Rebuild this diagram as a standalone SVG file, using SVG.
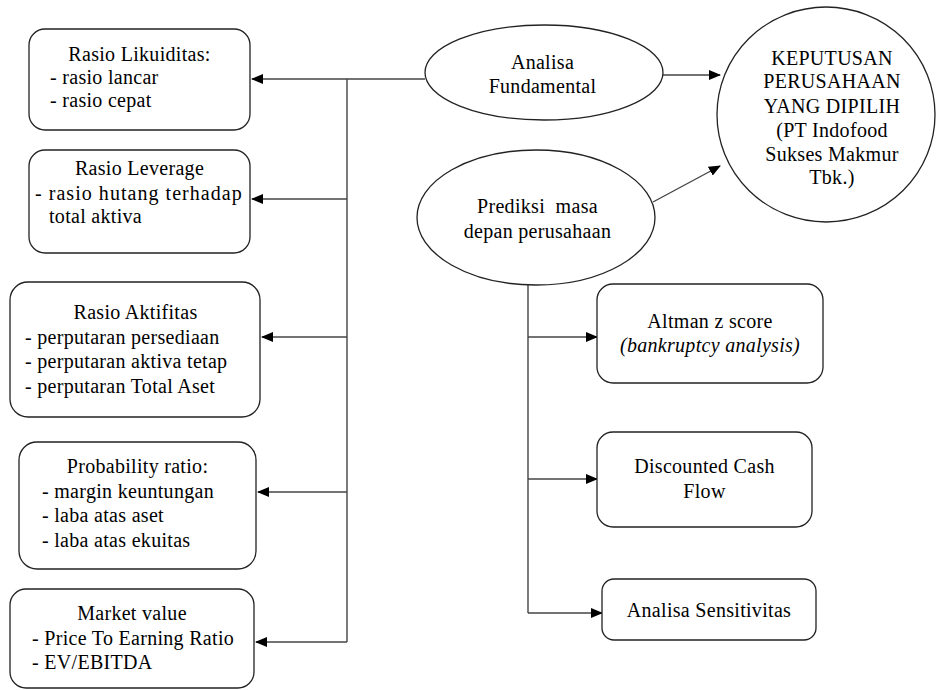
<svg xmlns="http://www.w3.org/2000/svg" width="937" height="690" viewBox="0 0 937 690">
<defs>
<marker id="ah" markerWidth="12" markerHeight="10" refX="11" refY="5" orient="auto" markerUnits="userSpaceOnUse">
<path d="M0,0 L12,5 L0,10 Z" fill="#000"/>
</marker>
<style>
text{font-family:'Liberation Serif',serif;font-size:20px;fill:#000;letter-spacing:0.3px}
.box{fill:#fff;stroke:#222;stroke-width:1.3}
.c{text-anchor:middle}
.i{font-style:italic}
.ln{fill:none;stroke:#444;stroke-width:1.4}
.ar{fill:none;stroke:#444;stroke-width:1.4;marker-end:url(#ah)}
</style>
</defs>
<rect width="937" height="690" fill="#fff"/>
<g id="connectors">
<line class="ln" x1="347" y1="79" x2="347" y2="642"/>
<line class="ar" x1="425" y1="79" x2="252" y2="79"/>
<line class="ar" x1="347" y1="199" x2="252" y2="199"/>
<line class="ar" x1="347" y1="337" x2="262" y2="337"/>
<line class="ar" x1="347" y1="492" x2="258" y2="492"/>
<line class="ar" x1="347" y1="642" x2="256" y2="642"/>
<line class="ar" x1="663" y1="75" x2="720" y2="75"/>
<line class="ar" x1="653" y1="202" x2="720" y2="166"/>
<line class="ln" x1="528" y1="285" x2="528" y2="613"/>
<line class="ar" x1="528" y1="337" x2="597" y2="337"/>
<line class="ar" x1="528" y1="479" x2="597" y2="479"/>
<line class="ar" x1="528" y1="613" x2="602" y2="613"/>
</g>
<g id="likuiditas">
<rect class="box" x="29" y="29" width="221" height="101" rx="16"/>
<text class="c" x="139.5" y="61">Rasio Likuiditas:</text>
<text x="50" y="84">- rasio lancar</text>
<text x="50" y="107">- rasio cepat</text>
</g>
<g id="leverage">
<rect class="box" x="29" y="150" width="221" height="103" rx="16"/>
<text class="c" x="139.5" y="175">Rasio Leverage</text>
<text x="35" y="200" textLength="207" lengthAdjust="spacing">- rasio hutang terhadap</text>
<text x="49" y="223">total aktiva</text>
</g>
<g id="aktifitas">
<rect class="box" x="10" y="282" width="250" height="135" rx="18"/>
<text class="c" x="135.5" y="319">Rasio Aktifitas</text>
<text x="25" y="344">- perputaran persediaan</text>
<text x="25" y="368">- perputaran aktiva tetap</text>
<text x="25" y="393">- perputaran Total Aset</text>
</g>
<g id="probability">
<rect class="box" x="19" y="442" width="237" height="127" rx="18"/>
<text class="c" x="137.5" y="473">Probability ratio:</text>
<text x="42" y="498">- margin keuntungan</text>
<text x="42" y="522">- laba atas aset</text>
<text x="42" y="547">- laba atas ekuitas</text>
</g>
<g id="market">
<rect class="box" x="10" y="589" width="244" height="99" rx="16"/>
<text class="c" x="132" y="620">Market value</text>
<text x="32" y="645">- Price To Earning Ratio</text>
<text x="32" y="669">- EV/EBITDA</text>
</g>
<g id="fundamental">
<ellipse class="box" cx="544" cy="72.5" rx="119" ry="47.5"/>
<text class="c" x="542.5" y="69">Analisa</text>
<text class="c" x="542.5" y="93">Fundamental</text>
</g>
<g id="prediksi">
<ellipse class="box" cx="536" cy="217.5" rx="119" ry="67.5"/>
<text class="c" x="537.5" y="213" xml:space="preserve">Prediksi  masa</text>
<text class="c" x="537.5" y="238">depan perusahaan</text>
</g>
<g id="keputusan">
<ellipse class="box" cx="826" cy="114.5" rx="109" ry="107.5"/>
<text class="c" x="832" y="65">KEPUTUSAN</text>
<text class="c" x="832" y="88">PERUSAHAAN</text>
<text class="c" x="832" y="113">YANG DIPILIH</text>
<text class="c" x="832" y="137">(PT Indofood</text>
<text class="c" x="832" y="161">Sukses Makmur</text>
<text class="c" x="832" y="184">Tbk.)</text>
</g>
<g id="altman">
<rect class="box" x="597" y="284" width="226" height="99" rx="16"/>
<text class="c" x="710" y="328">Altman z score</text>
<text class="c i" x="710" y="352">(bankruptcy analysis)</text>
</g>
<g id="dcf">
<rect class="box" x="597" y="432" width="215" height="95" rx="16"/>
<text class="c" x="704.5" y="473">Discounted Cash</text>
<text class="c" x="704.5" y="498">Flow</text>
</g>
<g id="sensitivitas">
<rect class="box" x="602" y="579" width="214" height="61" rx="12"/>
<text class="c" x="709" y="617">Analisa Sensitivitas</text>
</g>
</svg>
